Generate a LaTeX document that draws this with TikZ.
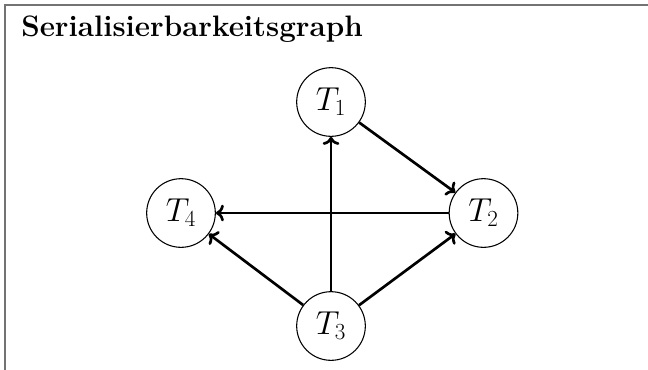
\documentclass[tikz,border=0pt]{standalone}
\usetikzlibrary{arrows.meta}
\begin{document}
\begin{tikzpicture}[x=0.75pt,y=-0.75pt,
  tnode/.style={draw,circle,line width=0.8pt,minimum size=51.5pt,inner sep=0pt,
    font=\fontsize{23}{27}\selectfont},
  edge/.style={->,line width=2pt},
  framecol/.style={draw=black!55,line width=1.5pt}]
\useasboundingbox (0,0) rectangle (648,369);
\coordinate (fbl) at (5,372);
\coordinate (ftl) at (5,5);
\coordinate (ftr) at (652,5);
\draw[framecol] (fbl) -- (ftl) -- (ftr);
\node[anchor=base west,inner sep=0pt,font=\fontsize{22.2}{26}\selectfont\bfseries] (title) at (21,36) {Serialisierbarkeitsgraph};
\node[tnode] (T1) at (331,102) {$T_1$};
\node[tnode] (T2) at (483.5,213) {$T_2$};
\node[tnode] (T3) at (331,326) {$T_3$};
\node[tnode] (T4) at (181,213) {$T_4$};
\draw[edge] (T1) -- (T2);
\draw[edge] (T2) -- (T4);
\draw[edge] (T3) -- (T1);
\draw[edge] (T3) -- (T2);
\draw[edge] (T3) -- (T4);
\end{tikzpicture}
\end{document}
